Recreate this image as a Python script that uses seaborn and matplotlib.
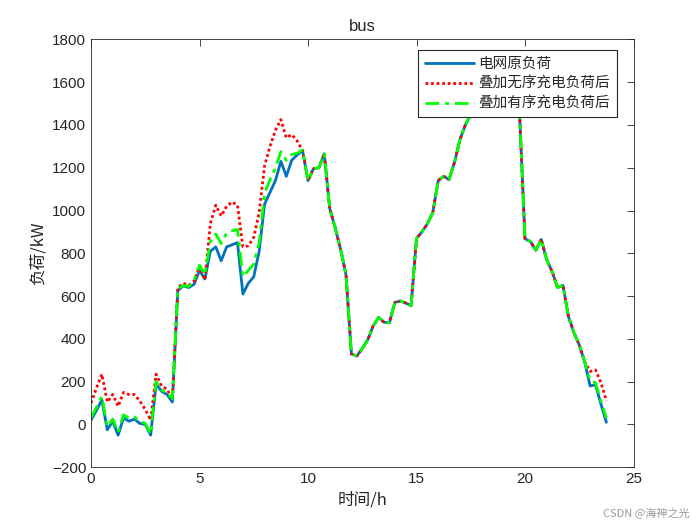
import numpy as np
import pandas as pd
import matplotlib
matplotlib.use('Agg')
import matplotlib.pyplot as plt
import seaborn as sns

# 15-minute samples over one day
hours = np.arange(96) * 0.25

# original grid load (kW)
base_load = [20, 65, 115, -25, 15, -50, 30, 15, 25, 5, 0, -50,
             190, 155, 140, 105, 625, 648, 640, 655, 720, 680, 810, 830,
             765, 830, 840, 850, 610, 660, 690, 810, 1030, 1085, 1140, 1230,
             1160, 1235, 1260, 1280, 1140, 1195, 1200, 1265, 1010, 920, 820, 700,
             330, 320, 355, 395, 460, 500, 478, 475, 570, 577, 568, 555,
             870, 900, 938, 990, 1140, 1160, 1145, 1225, 1330, 1400, 1450, 1490,
             1520, 1550, 1570, 1590, 1600, 1590, 1560, 1450, 868, 855, 815, 865,
             770, 715, 640, 650, 505, 430, 372, 293, 180, 185, 95, 10]

# load with uncontrolled charging
disorder_load = [100, 170, 235, 105, 140, 85, 150, 140, 140, 110, 70, 20,
                 235, 180, 165, 120, 640, 660, 650, 670, 740, 676, 940, 1025,
                 975, 1020, 1040, 1025, 830, 835, 875, 990, 1210, 1300, 1375, 1425,
                 1340, 1355, 1325, 1280] + base_load[40:92] + [248, 255, 195, 110]

# load with ordered charging
order_load = [30, 80, 130, -10, 25, -35, 45, 30, 35, 15, 5, -45,
              200, 160, 150, 120, 635, 650, 645, 675, 745, 700, 855, 890,
              845, 895, 905, 912, 690, 720, 750, 850, 1080, 1145, 1200, 1275,
              1235, 1262, 1268, 1283] + base_load[40:92] + [205, 195, 110, 30]

df = pd.DataFrame({'t': hours, 'base': base_load,
                   'disorder': disorder_load, 'order': order_load})

sns.set_style('white')
plt.rcParams['font.family'] = ['Liberation Sans', 'Noto Sans CJK SC', 'DejaVu Sans']
cjk = ['Noto Sans CJK SC', 'DejaVu Sans']

fig = plt.figure(figsize=(7, 5.25), dpi=100)
ax = fig.add_axes([0.13, 0.11, 0.775, 0.815])

sns.lineplot(data=df, x='t', y='base', ax=ax, color='#0072BD', lw=2, label='电网原负荷')
sns.lineplot(data=df, x='t', y='disorder', ax=ax, color='red', lw=2,
             linestyle=(0, (1, 1)), label='叠加无序充电负荷后')
sns.lineplot(data=df, x='t', y='order', ax=ax, color='#00FF00', lw=2,
             linestyle=(0, (5, 2, 1.5, 2)), label='叠加有序充电负荷后')

ax.set_xlim(0, 25)
ax.set_ylim(-200, 1800)
ax.set_xticks(range(0, 26, 5))
ax.set_yticks(range(-200, 1801, 200))
ax.tick_params(direction='in', top=True, right=True, length=5, labelsize=11, width=0.6)
for s in ax.spines.values():
    s.set_linewidth(0.6)
    s.set_color('#262626')

ax.set_xlabel('时间/h', family=cjk, fontsize=12)
ax.set_ylabel('负荷/kW', family=cjk, fontsize=12)
ax.set_title('bus', fontsize=12)

leg = ax.legend(loc='upper right', bbox_to_anchor=(0.969, 0.974), borderaxespad=0,
                prop={'family': cjk, 'size': 10.5},
                frameon=True, fancybox=False, framealpha=1, edgecolor='#262626',
                handlelength=3.4, handletextpad=0.3, labelspacing=0.4, borderpad=0.45)
leg.get_frame().set_linewidth(0.8)

fig.text(0.985, 0.012, 'CSDN @海神之光', ha='right', va='bottom', family=cjk,
         fontsize=8, color='#999999')

fig.savefig('out.png', dpi=100)
